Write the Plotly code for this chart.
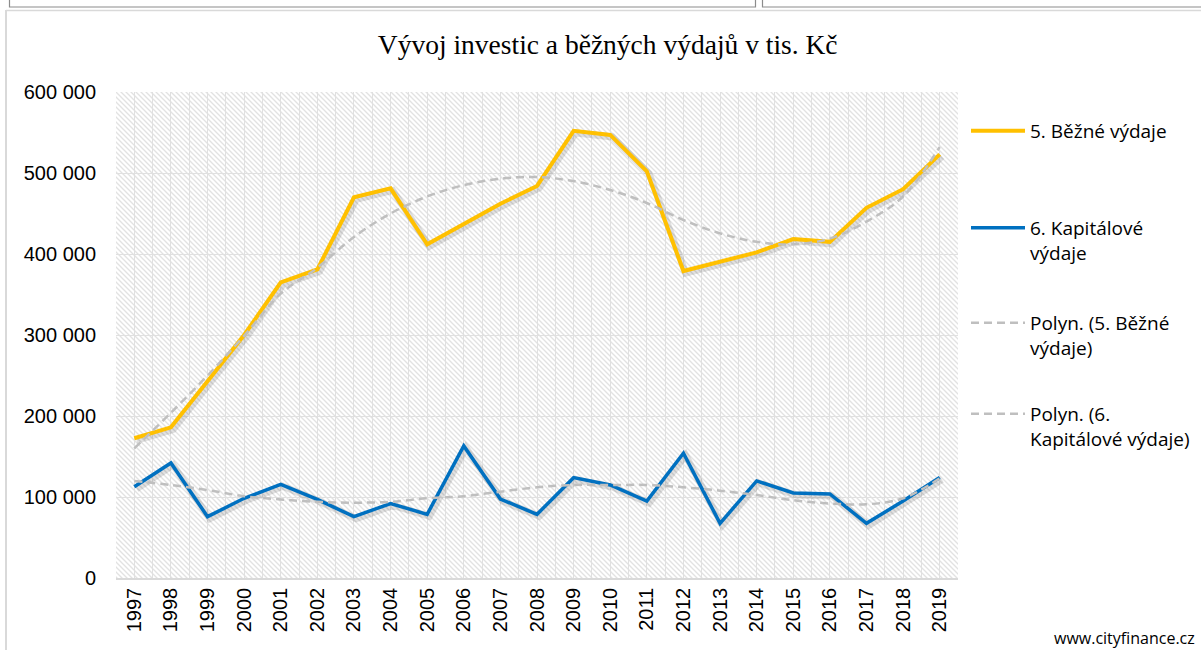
import base64
import plotly.graph_objects as go

# ---------------- data ----------------
years = list(range(1997, 2020))
year_labels = [str(y) for y in years]

bezne = [172500, 186000, 243000, 300000, 365000, 381000, 470000, 481000, 412000, 437000,
         462000, 484000, 552000, 547000, 502000, 379000, 390500, 402000, 418500, 415000,
         457000, 480000, 523000]
kapital = [112700, 142000, 75700, 98400, 115700, 97000, 75700, 92000, 78600, 163000,
           97500, 78600, 123900, 114800, 95000, 154000, 67500, 119800, 105000, 103700,
           67500, 95000, 124000]
trend_bezne = [160000, 204000, 250000, 299000, 351000, 383000, 421000, 450000, 471000, 485000,
               493000, 495000, 490000, 479000, 463000, 442000, 425500, 415000, 412000, 419000,
               440000, 471000, 532000]
trend_kapital = [119800, 114800, 108600, 101000, 97000, 94000, 93000, 94000, 98400, 101000,
                 106600, 112000, 114800, 114800, 114800, 112000, 107800, 102500, 96000, 92000,
                 91000, 98400, 123000]

y_ticks = [0, 100000, 200000, 300000, 400000, 500000, 600000]
y_tick_text = ["0", "100 000", "200 000", "300 000", "400 000", "500 000", "600 000"]

names = ["5. Běžné výdaje", "6. Kapitálové<br>výdaje",
         "Polyn. (5. Běžné<br>výdaje)", "Polyn. (6.<br>Kapitálové výdaje)"]
title_text = "Vývoj investic a běžných výdajů v tis. Kč"
source_text = "www.cityfinance.cz"

# ---------------- layout geometry ----------------
W, H = 1201, 650
L, R, T, B = 116, 243, 92, 72
pw, ph = W - L - R, H - T - B


def px_x(px):
    return (px - L) / pw


def px_y(py):
    return (H - B - py) / ph


YELLOW = "#FFC000"
BLUE = "#0070C0"
GREY = "#BFBFBF"
SHADOW = "rgba(0,0,0,0.12)"

fig = go.Figure()

# soft drop shadows under the two main series
for vals in (bezne, kapital):
    fig.add_trace(go.Scatter(
        x=[y + 0.06 for y in years], y=[v - 2500 for v in vals],
        mode="lines", line=dict(color=SHADOW, width=7),
        hoverinfo="skip", showlegend=False))

fig.add_trace(go.Scatter(x=years, y=bezne, name=names[0], mode="lines",
                         line=dict(color=YELLOW, width=4), legend="legend"))
fig.add_trace(go.Scatter(x=years, y=kapital, name=names[1], mode="lines",
                         line=dict(color=BLUE, width=3.5), legend="legend2"))
fig.add_trace(go.Scatter(x=years, y=trend_bezne, name=names[2], mode="lines",
                         line=dict(color=GREY, width=2.5, dash="8px,5px", shape="spline"),
                         legend="legend3"))
fig.add_trace(go.Scatter(x=years, y=trend_kapital, name=names[3], mode="lines",
                         line=dict(color=GREY, width=2.5, dash="8px,5px", shape="spline"),
                         legend="legend4"))

# hatched plot-area background
svg = (f'<svg xmlns="http://www.w3.org/2000/svg" width="{pw}" height="{ph}" '
       f'preserveAspectRatio="none"><defs><pattern id="h" width="5" height="5" '
       f'patternUnits="userSpaceOnUse"><rect width="5" height="5" fill="#ffffff"/>'
       f'<path d="M-1,-1 L6,6 M-1,4 L1,6 M4,-1 L6,1" stroke="#e2e2e2" stroke-width="1.3"/>'
       f'</pattern></defs><rect width="100%" height="100%" fill="url(#h)"/></svg>')
src = "data:image/svg+xml;base64," + base64.b64encode(svg.encode()).decode()

legend_font = dict(family="Open Sans, Lato, sans-serif", size=19, color="#000000")
legend_common = dict(bgcolor="rgba(0,0,0,0)", borderwidth=0, font=legend_font,
                     xanchor="left", yanchor="top", valign="top", itemwidth=54,
                     x=px_x(966))
legend_tops = [112, 209, 304, 395]

grid = "#e0e0e0"
fig.update_layout(
    width=W, height=H,
    margin=dict(l=L, r=R, t=T, b=B, autoexpand=False),
    paper_bgcolor="#ffffff",
    plot_bgcolor="rgba(0,0,0,0)",
    title=dict(text=title_text, x=0.506, xanchor="center", y=1 - 44 / H, yanchor="middle",
               font=dict(family="Liberation Serif, serif", size=27.5, color="#000000")),
    xaxis=dict(range=[1996.5, 2019.5], tickvals=years, ticktext=year_labels, tickangle=-90,
               showgrid=True, gridcolor=grid, gridwidth=1,
               minor=dict(tick0=1996.5, dtick=1, showgrid=True, gridcolor=grid, gridwidth=1),
               showline=True, linecolor="#d9d9d9", linewidth=1.5, zeroline=False,
               ticks="", tickfont=dict(family="Liberation Sans, Arial, sans-serif", size=20,
                                       color="#000000")),
    yaxis=dict(range=[0, 600000], tickvals=y_ticks, ticktext=y_tick_text,
               showgrid=True, gridcolor=grid, gridwidth=1, zeroline=False, showline=False,
               ticks="", ticklabelstandoff=19,
               tickfont=dict(family="Liberation Sans, Arial, sans-serif", size=20,
                             color="#000000")),
    images=[dict(source=src, xref="paper", yref="paper", x=0, y=1, sizex=1, sizey=1,
                 xanchor="left", yanchor="top", sizing="stretch", layer="below")],
    legend=dict(**legend_common, y=px_y(legend_tops[0])),
    legend2=dict(**legend_common, y=px_y(legend_tops[1])),
    legend3=dict(**legend_common, y=px_y(legend_tops[2])),
    legend4=dict(**legend_common, y=px_y(legend_tops[3])),
    showlegend=True,
    annotations=[dict(text=source_text, xref="paper", yref="paper", x=px_x(1197),
                      y=px_y(638), xanchor="right", yanchor="middle", showarrow=False,
                      font=dict(family="Open Sans, sans-serif", size=16, color="#000000"))],
    shapes=[
        # outer chart frame (left and top)
        dict(type="line", xref="paper", yref="paper", x0=px_x(6), x1=px_x(6),
             y0=px_y(10), y1=px_y(652), line=dict(color="#d9d9d9", width=2)),
        dict(type="line", xref="paper", yref="paper", x0=px_x(6), x1=px_x(1205),
             y0=px_y(10.5), y1=px_y(10.5), line=dict(color="#d9d9d9", width=1.5)),
        # neighbouring boxes cut off at the top of the picture
        dict(type="rect", xref="paper", yref="paper", x0=px_x(9.5), x1=px_x(755.5),
             y0=px_y(7), y1=px_y(-5), line=dict(color="#8c8c8c", width=1.2)),
        dict(type="rect", xref="paper", yref="paper", x0=px_x(762.5), x1=px_x(1210),
             y0=px_y(7), y1=px_y(-5), line=dict(color="#8c8c8c", width=1.2)),
    ],
)

fig.write_html("out.html", config={"displayModeBar": False},
               post_script="document.body.style.margin='0';document.body.style.overflow='hidden';")
